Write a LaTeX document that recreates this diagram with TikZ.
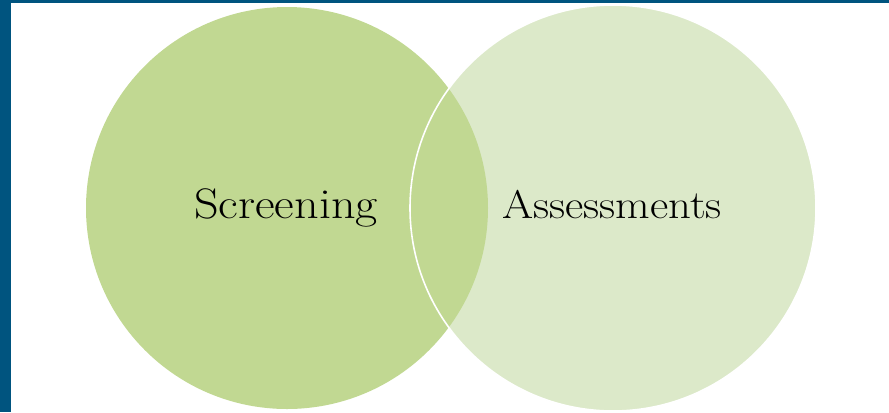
\documentclass[tikz,border=0pt]{standalone}
\usepackage{tikz}

\tikzset{every picture/.style={line width=0.75pt}}

\begin{document}
\begin{tikzpicture}[x=0.75pt,y=0.75pt,yscale=-1,xscale=1]
\useasboundingbox (0,0) rectangle (889,412);

%Shape: Rectangle [id:frameleft]
\fill [color={rgb, 255:red, 0; green, 84; blue, 127 }] (0,0) rectangle (11,412) ;
%Shape: Rectangle [id:frametop]
\fill [color={rgb, 255:red, 0; green, 84; blue, 127 }] (0,0) rectangle (889,3) ;

%Shape: Circle [id:assessments]
\fill [color={rgb, 255:red, 220; green, 233; blue, 201 }] (613,208) circle (203) ;
%Shape: Circle [id:screening]
\fill [color={rgb, 255:red, 193; green, 216; blue, 146 }] (287,208) circle (201) ;
%Shape: Circle outline [id:assessmentsrim]
\draw [color=white, line width=1.2pt] (613,208) circle (203) ;

% Text Node
\draw (286,218) node [anchor=base][inner sep=0.75pt] [xscale=1.13, font=\fontsize{32}{38}\selectfont] (screeningtext) {Screening};
% Text Node
\draw (612,218) node [anchor=base][inner sep=0.75pt] [xscale=1.12, font=\fontsize{30}{36}\selectfont] (assessmentstext) {Assessments};

\end{tikzpicture}
\end{document}
